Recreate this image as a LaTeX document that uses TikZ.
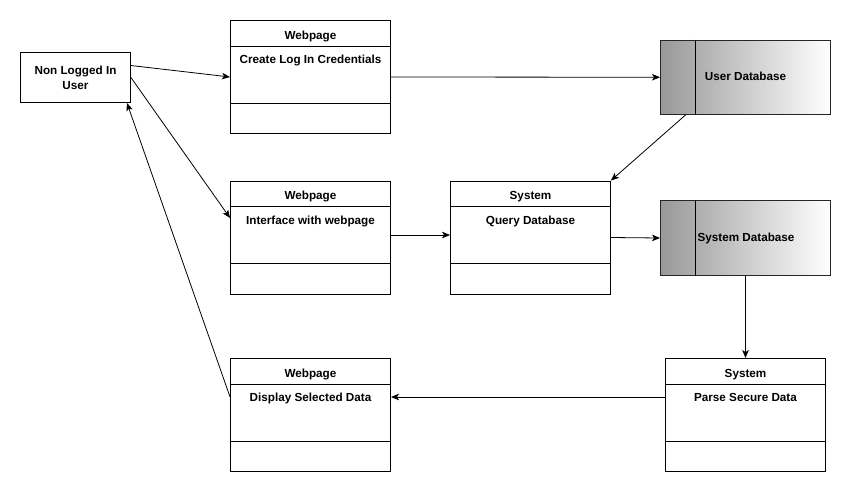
\documentclass[tikz,border=0pt]{standalone}
\usepackage{fontspec}
\setmainfont{Liberation Sans}
\usetikzlibrary{arrows.meta,calc}
\tikzset{
  every node/.style={font=\bfseries\fontsize{11.7}{15}\selectfont, text=black, inner sep=0pt},
  userbox/.style={draw=black, line width=0.9pt, minimum width=110pt, minimum height=50pt, align=center, fill=white},
  classbox/.style={draw=black, line width=0.9pt, minimum width=160pt, minimum height=113pt, fill=white},
  dbbox/.style={draw=black!85, line width=0.9pt, minimum width=170pt, minimum height=74.5pt, left color=black!40, right color=white},
  sepline/.style={draw=black, line width=0.9pt},
  arr/.style={draw=black, line width=0.8pt, -{Stealth[length=8pt,width=6.5pt,inset=2pt]}},
}
\newcommand{\classlines}[3]{%
  \draw[sepline] ([yshift=-26pt]#1.north west) -- ([yshift=-26pt]#1.north east);
  \draw[sepline] ([yshift=-83pt]#1.north west) -- ([yshift=-83pt]#1.north east);
  \node[anchor=base] (#1t) at ($(#1.north)+(0,19)$) {#2};
  \node[anchor=base] (#1b) at ($(#1.north)+(0,43.5)$) {#3};
}
\begin{document}
\begin{tikzpicture}[x=1pt, y=-1pt]
\useasboundingbox[fill=white] (0,0) rectangle (851,493);

\node[userbox] (user) at (75.5,77.5) {Non Logged In\\User};

\node[classbox] (w1) at (310.5,77) {};
\classlines{w1}{Webpage}{Create Log In Credentials}
\node[classbox] (w2) at (310.5,237.5) {};
\classlines{w2}{Webpage}{Interface with webpage}
\node[classbox] (s1) at (530.5,237.5) {};
\classlines{s1}{System}{Query Database}
\node[classbox] (w3) at (310.5,415) {};
\classlines{w3}{Webpage}{Display Selected Data}
\node[classbox] (s2) at (745.5,415) {};
\classlines{s2}{System}{Parse Secure Data}

\node[dbbox] (udb) at (745.5,77.25) {};
\draw[draw=black, line width=0.9pt] ([xshift=35.5pt]udb.north west) -- ([xshift=35.5pt]udb.south west);
\node[anchor=base] (udbt) at (745.5,80.5) {User Database};

\node[dbbox] (sdb) at (745.5,238) {};
\draw[draw=black, line width=0.9pt] ([xshift=35.5pt]sdb.north west) -- ([xshift=35.5pt]sdb.south west);
\node[anchor=base] (sdbt) at (746,241.5) {System Database};

\draw[arr] ([yshift=12pt]user.east) -- (w1.west);
\draw[arr] (user.east) -- ([yshift=19.5pt]w2.west);
\draw[arr] ([yshift=18pt]w3.west) -- ([xshift=-4pt]user.south east);
\draw[arr] (w1.east) -- (udb.west);
\draw[arr] ([xshift=25.5pt]udb.south west) -- (s1.north east);
\draw[arr] ([yshift=2.5pt]w2.east) -- ([yshift=2.5pt]s1.west);
\draw[arr] (s1.east) -- (sdb.west);
\draw[arr] (sdb.south) -- (s2.north);
\draw[arr] ([yshift=18pt]s2.west) -- ([yshift=18pt]w3.east);
\end{tikzpicture}
\end{document}
